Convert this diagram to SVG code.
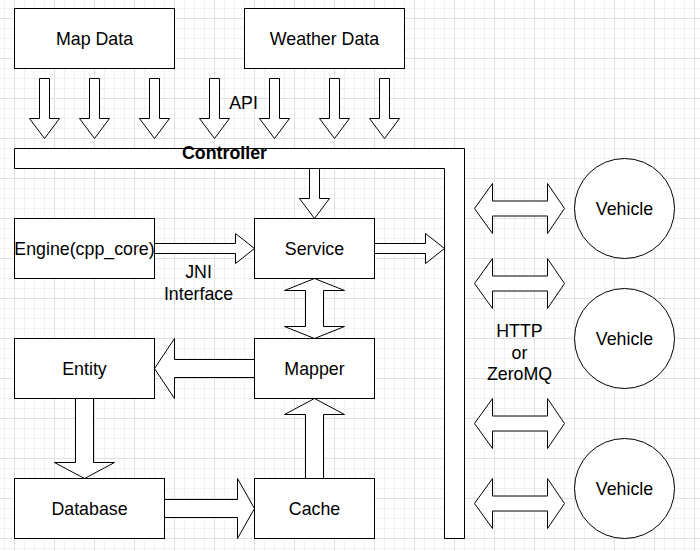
<svg xmlns="http://www.w3.org/2000/svg" width="700" height="551" viewBox="0 0 700 551">
<defs>
<pattern id="minor" x="4" y="8" width="10" height="10" patternUnits="userSpaceOnUse">
<rect x="0" y="0" width="10" height="1" fill="#f2f2f2"/>
<rect x="0" y="0" width="1" height="10" fill="#f2f2f2"/>
</pattern>
<pattern id="major" x="14" y="18" width="40" height="40" patternUnits="userSpaceOnUse">
<rect x="0" y="0" width="40" height="1" fill="#e0e0e0"/>
<rect x="0" y="0" width="1" height="40" fill="#e0e0e0"/>
</pattern>
<style>
.box{fill:#fff;stroke:#000;stroke-width:1}
.arr{fill:#fff;stroke:#000;stroke-width:1;stroke-linejoin:miter}
.t{font-family:"Liberation Sans",Arial,sans-serif;font-size:17.8px;fill:#000;text-anchor:middle}
.b{font-weight:bold;font-size:17.8px}
</style>
</defs>
<rect width="700" height="551" fill="#fff"/>
<rect width="700" height="551" fill="url(#minor)"/>
<rect width="700" height="551" fill="url(#major)"/>
<g transform="translate(0.5,0.5)">
<g id="connectors">
<path class="arr" d="M39,78 H49 V118 H59 L44,138 L29,118 H39 Z"/>
<path class="arr" d="M89,78 H99 V118 H109 L94,138 L79,118 H89 Z"/>
<path class="arr" d="M149,78 H159 V118 H169 L154,138 L139,118 H149 Z"/>
<path class="arr" d="M209,78 H219 V118 H229 L214,138 L199,118 H209 Z"/>
<path class="arr" d="M269,78 H279 V118 H289 L274,138 L259,118 H269 Z"/>
<path class="arr" d="M329,78 H339 V118 H349 L334,138 L319,118 H329 Z"/>
<path class="arr" d="M379,78 H389 V118 H399 L384,138 L369,118 H379 Z"/>
<path class="arr" d="M309,168 H319 V198 H329 L314,218 L299,198 H309 Z"/>
<path class="arr" d="M154,243 H235 V233 L254,248 L235,263 V253 H154 Z"/>
<path class="arr" d="M374,243 H425 V233 L444,248 L425,263 V253 H374 Z"/>
<path class="arr" d="M314,278 L344,290 H323 V326 H344 L314,338 L284,326 H305 V290 H284 Z"/>
<path class="arr" d="M254,359 H174 V338 L154,368 L174,398 V377 H254 Z"/>
<path class="arr" d="M305,478 V414 H284 L314,398 L344,414 H323 V478 Z"/>
<path class="arr" d="M75,398 V462 H54 L84,478 L114,462 H93 V398 Z"/>
<path class="arr" d="M164,499 H237 V478 L254,508 L237,538 V517 H164 Z"/>
<path class="arr" d="M474,208 L492,183 V200.5 H547 V183 L564,208 L547,233 V215.5 H492 V233 Z"/>
<path class="arr" d="M474,283 L492,258 V275.5 H547 V258 L564,283 L547,308 V290.5 H492 V308 Z"/>
<path class="arr" d="M474,423 L492,398 V415.5 H547 V398 L564,423 L547,448 V430.5 H492 V448 Z"/>
<path class="arr" d="M474,503 L492,478 V495.5 H547 V478 L564,503 L547,528 V510.5 H492 V528 Z"/>
</g>
<g id="map-data"><rect class="box" x="14" y="8" width="160" height="60"/><text class="t" x="94" y="44">Map Data</text></g>
<g id="weather-data"><rect class="box" x="244" y="8" width="160" height="60"/><text class="t" x="324" y="44">Weather Data</text></g>
<g id="api-label"><text class="t" x="243" y="108.5">API</text></g>
<g id="controller"><path class="box" d="M14,148 H464 V538 H444 V168 H14 Z"/><text class="t b" x="224" y="158">Controller</text></g>
<g id="engine"><rect class="box" x="14" y="218" width="140" height="60"/><text class="t" x="84" y="254">Engine(cpp_core)</text></g>
<g id="service"><rect class="box" x="254" y="218" width="120" height="60"/><text class="t" x="314" y="254">Service</text></g>
<g id="jni-label"><text class="t" x="198" y="277.5">JNI</text><text class="t" x="198" y="299.5">Interface</text></g>
<g id="entity"><rect class="box" x="14" y="338" width="140" height="60"/><text class="t" x="84" y="374">Entity</text></g>
<g id="mapper"><rect class="box" x="254" y="338" width="120" height="60"/><text class="t" x="314" y="374">Mapper</text></g>
<g id="database"><rect class="box" x="14" y="478" width="150" height="60"/><text class="t" x="89" y="514">Database</text></g>
<g id="cache"><rect class="box" x="254" y="478" width="120" height="60"/><text class="t" x="314" y="514">Cache</text></g>
<g id="protocol-label"><text class="t" x="519" y="336.5">HTTP</text><text class="t" x="519" y="358">or</text><text class="t" x="519" y="379.5">ZeroMQ</text></g>
<g id="vehicle-1"><circle class="box" cx="624" cy="208" r="50"/><text class="t" x="624" y="214">Vehicle</text></g>
<g id="vehicle-2"><circle class="box" cx="624" cy="338" r="50"/><text class="t" x="624" y="344">Vehicle</text></g>
<g id="vehicle-3"><circle class="box" cx="624" cy="488" r="50"/><text class="t" x="624" y="494">Vehicle</text></g>
</g>
</svg>
